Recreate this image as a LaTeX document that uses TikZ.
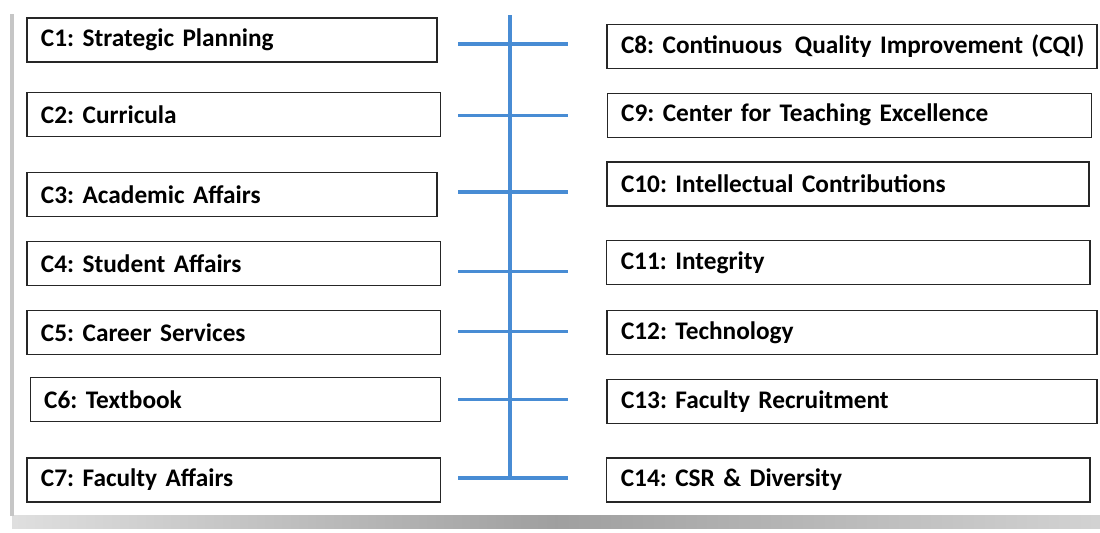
\documentclass[tikz,border=0pt]{standalone}
\usepackage{fontspec}
\setmainfont[WordSpace=0.75]{Carlito}
\frenchspacing
\hbadness=10000
\hfuzz=20pt
\definecolor{spineblue}{RGB}{72,140,212}
\begin{document}
\begin{tikzpicture}
			\tikzstyle{block} = [draw=black!85, line width=0.8pt, rectangle, minimum height=1.1cm, inner xsep=0.35cm, align=left, font=\fontsize{18}{20}\selectfont\bfseries]
			\tikzstyle{spine} = [draw=spineblue, line width=2.2pt]
			\useasboundingbox (0,0) rectangle (27.5,-13.3);
			% frame shadow
			\shade[left color=gray!25, right color=gray!35, middle color=gray!75] (0.3,-12.88) rectangle (27.5,-13.2);
			\fill[gray!45] (0.26,-0.35) rectangle (0.34,-12.9);
			% left column
			\node[block, minimum width=10.25cm, text width=9.55cm] (C1) at (5.8, -1.0) {C1: Strategic Planning};
			\node[block, minimum width=10.33cm, text width=9.63cm] (C2) at (5.84, -2.86) {C2: Curricula};
			\node[block, minimum width=10.25cm, text width=9.55cm] (C3) at (5.8, -4.86) {C3: Academic Affairs};
			\node[block, minimum width=10.33cm, text width=9.63cm] (C4) at (5.84, -6.58) {C4: Student Affairs};
			\node[block, minimum width=10.33cm, text width=9.63cm] (C5) at (5.84, -8.31) {C5: Career Services};
			\node[block, minimum width=10.25cm, text width=9.55cm] (C6) at (5.88, -9.99) {C6: Textbook};
			\node[block, minimum width=10.33cm, text width=9.63cm] (C7) at (5.84, -12.0) {C7: Faculty Affairs};
			% right column
			\node[block, minimum width=12.25cm, text width=11.55cm] (C8) at (21.3, -1.16) {\mbox{C8: Continuous\enspace Quality Improvement (CQI)}};
			\node[block, minimum width=12.1cm, text width=11.4cm] (C9) at (21.23, -2.88) {C9: Center for Teaching Excellence};
			\node[block, minimum width=12.05cm, text width=11.35cm] (C10) at (21.2, -4.6) {C10: Intellectual Contributions};
			\node[block, minimum width=12.08cm, text width=11.38cm] (C11) at (21.21, -6.56) {C11: Integrity};
			\node[block, minimum width=12.25cm, text width=11.55cm] (C12) at (21.3, -8.31) {C12: Technology};
			\node[block, minimum width=12.25cm, text width=11.55cm] (C13) at (21.3, -10.03) {C13: Faculty Recruitment};
			\node[block, minimum width=12.08cm, text width=11.38cm] (C14) at (21.21, -12.0) {C14: CSR \& Diversity};
			% spine and ticks
			\coordinate (top) at (12.75, -0.38);
			\coordinate (bottom) at (12.75, -11.95);
			\draw[spine] (top) -- (bottom);
			\foreach \y in {-1.1, -2.88, -4.8, -6.78, -8.28, -9.98, -11.95}
			{
				\draw[spine] (11.45, \y) -- (14.2, \y);
			}
\end{tikzpicture}
\end{document}
